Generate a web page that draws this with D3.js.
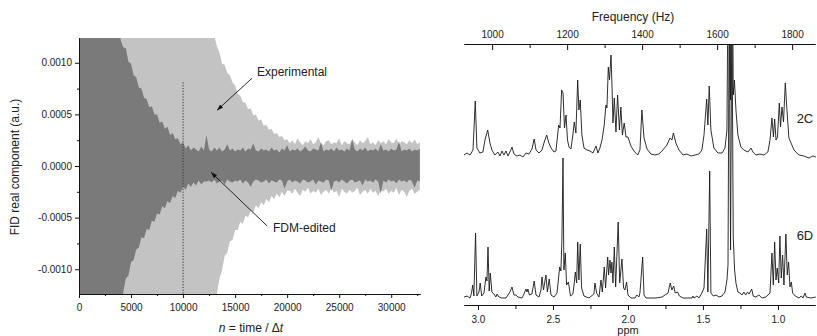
<!DOCTYPE html>
<html><head><meta charset="utf-8">
<script src="https://cdn.jsdelivr.net/npm/d3@7"></script>
<style>
body{margin:0;background:#fff}
text{font-family:Arial,"Liberation Sans",sans-serif;fill:#222}
</style>
</head><body>
<svg id="c" width="817" height="336"></svg>
<script>
// ---------------- LEFT PANEL DATA (FID envelopes, units of 1e-5 a.u.) ----------------
const sampleStep = 250;
const nGrid = d3.range(0, 32751, sampleStep); // sample index n
const expUp = [
200,200,200,200,200,200,200,200,200,200,200,200,200,
200,200,200,200,200,200,200,200,200,200,200,200,200,
200,200,200,200,200,200,200,200,200,200,200,200,200,
200,200,200,200,200,200,200,200,200,200,200,200,200,
126,116,110,99,98,90,88,81,78,70,68,62,61,55,56,49,50,44,45,39,40,35,36,31,32,28,29,25,26,
22,25,21,27,23,20,24,22,26,21,23,28,22,20,24,25,21,23,22,27,20,24,22,21,26,23,20,25,22,24,
28,21,23,20,25,22,24,21,26,23,22,27,20,24,23,21,25,22,26,21,23];
const expLo = [
-200,-200,-200,-200,-200,-200,-200,-200,-200,-200,-200,-200,-200,
-200,-200,-200,-200,-200,-200,-200,-200,-200,-200,-200,-200,-200,
-200,-200,-200,-200,-200,-200,-200,-200,-200,-200,-200,-200,-200,
-200,-200,-200,-200,-200,-200,-200,-200,-200,-200,-200,-200,-200,-200,
-124,-109,-101,-87,-84,-73,-72,-62,-62,-54,-56,-48,-50,-43,-45,-38,-41,-35,-38,-32,-35,-29,-32,-27,-30,-25,-29,-24,
-24,-27,-22,-26,-29,-23,-25,-21,-27,-24,-26,-22,-28,-25,-23,-27,-21,-26,-24,-30,-22,-25,-27,-23,-26,-24,-21,-28,-25,-23,
-27,-22,-26,-24,-29,-23,-25,-22,-27,-24,-26,-21,-28,-23,-25,-30,-24,-22,-27,-25,-23];
const fdmUp = [
200,200,200,200,200,200,200,200,200,200,200,200,200,200,200,200,
122,115,114,101,99,88,86,76,75,66,65,57,58,50,50,42,43,36,38,30,32,26,27,21,23,17,20,15,18,16,14,19,15,30,16,14,18,
15,18,14,16,21,15,17,14,16,15,18,14,17,16,22,15,14,17,15,16,14,18,15,16,13,17,15,20,14,16,
15,17,14,16,19,15,14,17,16,15,23,14,16,15,17,14,18,15,16,14,17,15,26,16,14,17,15,18,14,16,
15,17,14,21,15,16,14,17,15,16,24,14,16,15,17,14,16,15,17];
const fdmLo = [
-200,-200,-200,-200,-200,-200,-200,-200,-200,-200,-200,-200,-200,-200,-200,-200,-200,
-122,-109,-106,-93,-91,-81,-79,-69,-70,-61,-62,-53,-54,-46,-47,-39,-41,-34,-36,-29,-31,-24,-26,-20,-23,-17,-20,-16,-19,-14,-18,-15,
-15,-14,-16,-13,-17,-15,-14,-18,-13,-15,-16,-14,-15,-13,-17,-14,-16,-20,-15,-13,
-14,-16,-15,-13,-17,-14,-15,-16,-13,-14,-22,-15,-13,-16,-14,-15,-17,-13,-14,-16,
-15,-13,-18,-14,-15,-16,-13,-14,-24,-15,-14,-16,-13,-15,-17,-14,-13,-16,-15,-14,
-19,-13,-15,-14,-16,-13,-15,-27,-14,-16,-13,-15,-14,-17,-13,-15,-14,-16,-13,-15,-21,-14,-15];
const xTicksL = [0,5000,10000,15000,20000,25000,30000];
const xMinorL = [2500,7500,12500,17500,22500,27500,32500];
const yTicksL = [-100,-50,0,50,100];
const yMinorL = [-75,-25,25,75];
const markerN = 10000, markerTop = 81;
const annotations = [
  {label:"Experimental", tx:17105, ty:87, ax0:16625, ay0:85, ax1:13262, ay1:54},
  {label:"FDM-edited", tx:18643, ty:-64, ax0:18066, ay0:-58, ax1:12685, ay1:-6}
];

// ---------------- RIGHT PANEL DATA (NMR spectra: [ppm, intensity]) ----------------
const spec2C = [[3.093,-0.1],[3.073,0.1],[3.053,-0.1],[3.033,0.4],[3.018,5.3],[3.007,0.6],[2.987,0.1],[2.967,0.2],[2.953,1.4],[2.935,2.4],[2.920,1.1],[2.907,0.4],[2.887,-0.1],[2.867,0.2],[2.853,-0.2],[2.840,0.3],[2.827,-0.1],[2.813,0.3],[2.800,-0.2],[2.787,0.2],[2.773,0.7],[2.760,0.0],[2.740,-0.2],[2.720,-0.1],[2.700,-0.3],[2.680,0.1],[2.660,0.0],[2.640,0.5],[2.625,1.5],[2.613,0.4],[2.593,0.1],[2.573,0.4],[2.560,1.1],[2.542,1.9],[2.527,1.1],[2.513,0.6],[2.493,0.2],[2.480,0.3],[2.462,2.9],[2.453,2.6],[2.442,6.4],[2.433,6.1],[2.423,2.6],[2.413,3.9],[2.403,1.4],[2.393,0.7],[2.380,0.5],[2.367,1.9],[2.358,3.2],[2.347,2.1],[2.335,7.4],[2.327,4.4],[2.318,5.4],[2.307,1.9],[2.293,0.6],[2.273,0.4],[2.253,0.3],[2.233,0.1],[2.213,0.8],[2.200,0.1],[2.187,0.6],[2.173,1.4],[2.158,2.9],[2.147,4.9],[2.140,4.6],[2.131,8.7],[2.123,7.4],[2.113,9.9],[2.106,6.6],[2.100,3.1],[2.091,5.6],[2.080,2.2],[2.069,5.9],[2.057,2.4],[2.047,4.7],[2.037,1.9],[2.025,3.1],[2.013,1.7],[2.000,1.7],[1.980,0.8],[1.960,0.3],[1.935,-0.1],[1.920,0.4],[1.907,4.4],[1.893,1.6],[1.873,0.5],[1.847,0.0],[1.820,-0.1],[1.793,0.0],[1.767,0.4],[1.740,0.9],[1.720,1.6],[1.707,1.4],[1.697,2.1],[1.680,1.1],[1.660,0.4],[1.633,-0.1],[1.607,0.0],[1.580,-0.2],[1.553,-0.1],[1.527,0.0],[1.507,0.4],[1.493,1.9],[1.475,5.5],[1.467,2.9],[1.458,6.8],[1.447,2.4],[1.427,0.6],[1.400,0.1],[1.373,0.1],[1.353,0.6],[1.345,1.7],[1.340,2.4],[1.327,30],[1.316,5.4],[1.307,30],[1.298,5.9],[1.290,7.4],[1.280,4.4],[1.267,1.9],[1.247,0.7],[1.227,0.4],[1.200,0.2],[1.180,0.6],[1.167,0.2],[1.147,-0.1],[1.120,0.0],[1.093,-0.1],[1.067,0.2],[1.053,1.4],[1.040,3.6],[1.030,1.7],[1.022,3.5],[1.013,1.4],[1.003,1.7],[0.991,5.1],[0.983,2.7],[0.973,4.7],[0.963,3.2],[0.951,7.1],[0.940,4.4],[0.927,1.6],[0.907,0.9],[0.893,0.4],[0.860,-0.1],[0.827,-0.2],[0.793,-0.4],[0.767,-0.2],[0.747,-0.3]];
const spec6D = [[3.093,0.1],[3.073,0.2],[3.053,0.0],[3.043,0.5],[3.035,1.3],[3.027,0.2],[3.016,6.5],[3.007,0.2],[2.993,0.6],[2.985,1.5],[2.975,0.2],[2.960,0.5],[2.947,2.1],[2.940,1.7],[2.933,5.1],[2.925,0.7],[2.918,2.5],[2.907,0.6],[2.893,0.4],[2.880,0.1],[2.873,0.4],[2.860,0.1],[2.840,0.0],[2.813,0.0],[2.787,0.6],[2.773,1.1],[2.760,0.3],[2.747,0.3],[2.733,0.1],[2.707,0.0],[2.693,0.4],[2.680,0.9],[2.673,0.6],[2.667,0.9],[2.657,0.3],[2.640,0.4],[2.625,1.7],[2.613,0.3],[2.593,0.1],[2.580,0.8],[2.573,2.1],[2.563,0.8],[2.547,2.3],[2.537,0.6],[2.525,1.9],[2.513,0.3],[2.493,0.1],[2.473,0.5],[2.455,3.1],[2.447,2.7],[2.440,6.0],[2.433,14.0],[2.427,2.8],[2.418,4.5],[2.409,1.3],[2.397,1.6],[2.383,0.2],[2.367,0.4],[2.360,1.2],[2.351,2.6],[2.342,1.5],[2.335,5.6],[2.327,1.8],[2.318,5.4],[2.309,1.0],[2.293,0.2],[2.260,0.0],[2.227,0.4],[2.220,1.5],[2.209,0.5],[2.193,0.1],[2.180,1.8],[2.171,0.6],[2.158,3.1],[2.149,1.0],[2.135,4.1],[2.129,2.3],[2.120,3.8],[2.113,2.5],[2.107,3.6],[2.100,1.5],[2.091,5.1],[2.082,1.1],[2.065,7.6],[2.055,1.5],[2.040,3.9],[2.029,1.0],[2.020,0.8],[2.009,1.6],[2.000,0.3],[1.980,0.0],[1.953,0.0],[1.940,0.3],[1.927,0.1],[1.920,0.5],[1.902,4.1],[1.893,0.3],[1.880,0.0],[1.813,0.0],[1.773,0.1],[1.753,0.3],[1.733,0.5],[1.718,1.5],[1.707,0.8],[1.695,1.2],[1.685,0.5],[1.669,0.6],[1.657,0.2],[1.633,0.0],[1.573,0.0],[1.567,0.2],[1.560,0.0],[1.540,0.2],[1.527,0.0],[1.507,0.5],[1.493,1.0],[1.475,6.9],[1.467,0.6],[1.455,12.7],[1.447,0.5],[1.431,0.2],[1.413,0.3],[1.393,0.1],[1.373,0.2],[1.353,0.6],[1.340,1.8],[1.333,3.3],[1.325,30],[1.316,4.8],[1.307,30],[1.298,6.1],[1.289,2.8],[1.280,1.5],[1.267,0.6],[1.253,0.5],[1.240,0.3],[1.227,0.6],[1.215,0.3],[1.203,0.6],[1.193,0.4],[1.175,0.9],[1.165,0.2],[1.147,0.1],[1.127,0.3],[1.107,0.0],[1.080,0.1],[1.053,0.5],[1.040,4.5],[1.031,1.3],[1.022,5.6],[1.013,1.8],[1.005,3.0],[0.995,1.5],[0.987,6.2],[0.978,2.0],[0.969,4.3],[0.960,1.3],[0.947,6.4],[0.938,2.3],[0.929,3.6],[0.920,1.1],[0.911,1.6],[0.902,0.5],[0.885,0.2],[0.860,0.0],[0.845,0.2],[0.833,0.0],[0.820,0.5],[0.811,0.1],[0.780,0.0],[0.747,0.1]];
const spectraOffsets = {"2C":14.4, "6D":0};
const labelPos = {"2C":[0.82,18.0], "6D":[0.82,6.3]};
const ppmTicks = [3.0,2.5,2.0,1.5,1.0];
const ppmMinor = [2.75,2.25,1.75,1.25];
const hzTicks = [1000,1200,1400,1600,1800];
const hzMinor = [1100,1300,1500,1700];

// ---------------- DRAW ----------------
const svg = d3.select("#c");
const defs = svg.append("defs");
defs.append("clipPath").attr("id","clipL").append("rect").attr("x",79).attr("y",38).attr("width",341).attr("height",256);
defs.append("clipPath").attr("id","clipR").append("rect").attr("x",464).attr("y",44).attr("width",353).attr("height",261);
defs.append("marker").attr("id","ah").attr("viewBox","0 0 10 10").attr("refX",10).attr("refY",5)
  .attr("markerWidth",7).attr("markerHeight",7).attr("orient","auto")
  .append("path").attr("d","M0,1.5 L10,5 L0,8.5 Z").attr("fill","#111");

// Left panel scales
const xL = d3.scaleLinear().domain([0,32768]).range([79,420]);
const yL = d3.scaleLinear().domain([-124,124]).range([294,38]);
const gL = svg.append("g");
const plotL = gL.append("g").attr("clip-path","url(#clipL)");
const areaFn = (up, lo) => d3.area()
  .defined((d,i)=> up[i]!==undefined && lo[i]!==undefined)
  .x(d=>xL(d)).y0((d,i)=>yL(lo[i])).y1((d,i)=>yL(up[i]));
plotL.append("path").datum(nGrid).attr("d", areaFn(expUp,expLo)).attr("fill","#c3c3c3");
plotL.append("path").datum(nGrid).attr("d", areaFn(fdmUp,fdmLo)).attr("fill","#7a7a7a");
plotL.append("line").attr("x1",xL(markerN)).attr("x2",xL(markerN)).attr("y1",yL(markerTop)).attr("y2",yL(-124))
  .attr("stroke","#333").attr("stroke-width",1).attr("stroke-dasharray","1.2,1.6");

// Left axes
const fmtY = d => (d/1e5).toFixed(4);
gL.append("g").attr("transform",`translate(79,0)`)
  .call(d3.axisLeft(yL).tickValues(yTicksL).tickSize(4).tickSizeOuter(0).tickPadding(3).tickFormat(fmtY));
gL.append("g").attr("transform",`translate(79,0)`)
  .call(d3.axisLeft(yL).tickValues(yMinorL).tickSize(2).tickSizeOuter(0).tickFormat(""));
gL.append("g").attr("transform",`translate(0,294)`)
  .call(d3.axisBottom(xL).tickValues(xTicksL).tickSize(4).tickSizeOuter(0).tickPadding(6).tickFormat(d3.format("d")));
gL.append("g").attr("transform",`translate(0,294)`)
  .call(d3.axisBottom(xL).tickValues(xMinorL).tickSize(2).tickSizeOuter(0).tickFormat(""));
gL.selectAll(".tick text").attr("font-size",10).attr("font-family","Arial, Liberation Sans, sans-serif").attr("fill","#222");
gL.selectAll(".domain, .tick line").attr("stroke","#111");

gL.append("text").attr("transform","translate(15,167) rotate(-90)").attr("text-anchor","middle")
  .attr("dy","0.35em").attr("font-size",12).text("FID real component (a.u.)");
const xt = gL.append("text").attr("x",251).attr("y",332).attr("text-anchor","middle").attr("font-size",12);
xt.append("tspan").attr("font-style","italic").text("n");
xt.append("tspan").text(" = time / Δ");
xt.append("tspan").attr("font-style","italic").text("t");

annotations.forEach(a=>{
  gL.append("line").attr("x1",xL(a.ax0)).attr("y1",yL(a.ay0)).attr("x2",xL(a.ax1)).attr("y2",yL(a.ay1))
    .attr("stroke","#111").attr("stroke-width",0.9).attr("marker-end","url(#ah)");
  gL.append("text").attr("x",xL(a.tx)).attr("y",yL(a.ty)).attr("font-size",12).text(a.label);
});

// Right panel scales
const xR = d3.scaleLinear().domain([3.093,0.753]).range([464,815]);
const xHz = d3.scaleLinear().domain([925,1861]).range([464,815]);
const yR = d3.scaleLinear().domain([-0.7,25.4]).range([305,44]);
const gR = svg.append("g");
const plotR = gR.append("g").attr("clip-path","url(#clipR)");
const lineFn = off => d3.line().x(d=>xR(d[0])).y(d=>yR(d[1]+off));
plotR.append("path").datum(spec6D).attr("d", lineFn(spectraOffsets["6D"])).attr("fill","none")
  .attr("stroke","#1a1a1a").attr("stroke-width",0.9).attr("stroke-linejoin","round");
plotR.append("path").datum(spec2C).attr("d", lineFn(spectraOffsets["2C"])).attr("fill","none")
  .attr("stroke","#1a1a1a").attr("stroke-width",0.9).attr("stroke-linejoin","round");

gR.append("g").attr("transform","translate(0,305)")
  .call(d3.axisBottom(xR).tickValues(ppmTicks).tickSize(5).tickSizeOuter(0).tickPadding(6).tickFormat(d3.format(".1f")));
gR.append("g").attr("transform","translate(0,305)")
  .call(d3.axisBottom(xR).tickValues(ppmMinor).tickSize(4).tickSizeOuter(0).tickFormat(""));
gR.append("g").attr("transform","translate(0,44)")
  .call(d3.axisTop(xHz).tickValues(hzTicks).tickSize(-6).tickSizeOuter(0).tickPadding(6).tickFormat(d3.format("d")));
gR.append("g").attr("transform","translate(0,44)")
  .call(d3.axisTop(xHz).tickValues(hzMinor).tickSize(-4).tickSizeOuter(0).tickFormat(""));
gR.selectAll(".tick text").attr("font-size",10).attr("font-family","Arial, Liberation Sans, sans-serif").attr("fill","#222");
gR.selectAll(".domain, .tick line").attr("stroke","#111");

gR.append("text").attr("x",628).attr("y",334).attr("text-anchor","middle").attr("font-size",11).text("ppm");
gR.append("text").attr("x",633).attr("y",21).attr("text-anchor","middle").attr("font-size",12).text("Frequency (Hz)");
Object.keys(labelPos).forEach(k=>{
  gR.append("text").attr("x",xR(labelPos[k][0])).attr("y",yR(labelPos[k][1])).attr("dy","0.35em")
    .attr("text-anchor","middle").attr("font-size",13).text(k);
});
</script>
</body></html>
